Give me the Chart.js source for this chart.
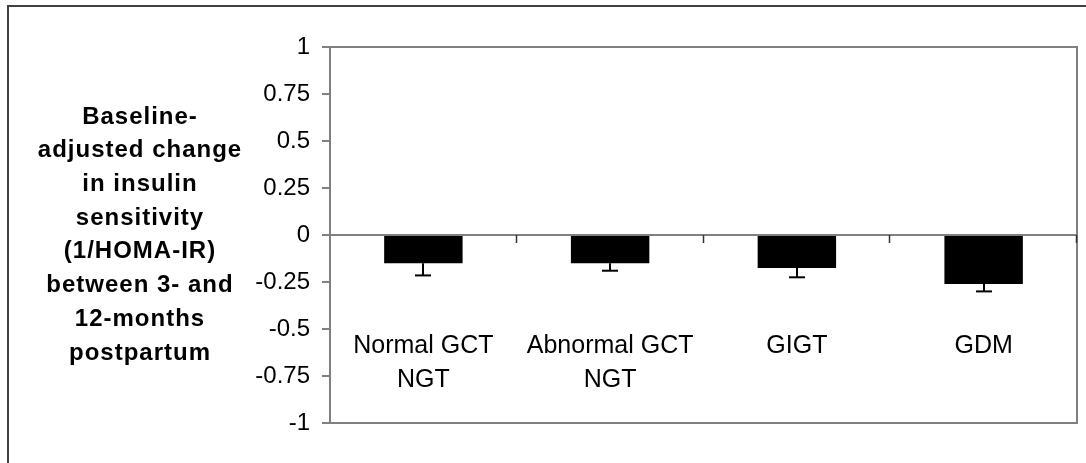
<!DOCTYPE html>
<html><head><meta charset="utf-8">
<script src="https://cdn.jsdelivr.net/npm/chart.js@4.4.1/dist/chart.umd.min.js"></script>
<style>html,body{margin:0;padding:0;background:#fff;} #wrap{width:1086px;height:463px;position:relative;}</style>
</head><body><div id="wrap"><canvas id="c" width="1086" height="463"></canvas></div>
<script>
const categories = [['Normal GCT','NGT'],['Abnormal GCT','NGT'],['GIGT'],['GDM']];
const changeValues = [-0.15, -0.15, -0.175, -0.26];
const errorLower = [-0.215, -0.19, -0.225, -0.30];
const yTickValues = [-1,-0.75,-0.5,-0.25,0,0.25,0.5,0.75,1];
const yTickLabels = ['-1','-0.75','-0.5','-0.25','0','0.25','0.5','0.75','1'];
const yTitleLines = ['Baseline-','adjusted change','in insulin','sensitivity','(1/HOMA-IR)','between 3- and','12-months','postpartum'];

const FONT = '"Liberation Sans", Arial, sans-serif';

const decor = {
  id: 'decor',
  afterDatasetsDraw(chart) {
    const ctx = chart.ctx;
    const xs = chart.scales.x, ys = chart.scales.y;
    ctx.save();
    ctx.strokeStyle = '#000'; ctx.lineWidth = 2; ctx.lineCap = 'butt';
    changeValues.forEach((v, i) => {
      const x = Math.round(xs.getPixelForValue(i));
      const y0 = ys.getPixelForValue(v), y1 = ys.getPixelForValue(errorLower[i]);
      ctx.beginPath(); ctx.moveTo(x, y0); ctx.lineTo(x, y1); ctx.stroke();
      ctx.beginPath(); ctx.moveTo(x - 8, y1); ctx.lineTo(x + 8, y1); ctx.stroke();
    });
    ctx.restore();
  },
  afterDraw(chart) {
    const ctx = chart.ctx, a = chart.chartArea;
    const xs = chart.scales.x, ys = chart.scales.y;
    ctx.save();
    ctx.strokeStyle = '#808080'; ctx.lineWidth = 2;
    ctx.beginPath();
    ctx.moveTo(a.left, a.top); ctx.lineTo(a.right, a.top); ctx.lineTo(a.right, a.bottom); ctx.lineTo(a.left, a.bottom);
    ctx.stroke();
    ctx.strokeStyle = '#404040'; ctx.lineWidth = 2;
    ctx.beginPath(); ctx.moveTo(8, chart.height); ctx.lineTo(8, 6); ctx.lineTo(chart.width, 6); ctx.stroke();
    const y0 = ys.getPixelForValue(0);
    const n = categories.length, w = (a.right - a.left) / n;
    ctx.strokeStyle = '#333'; ctx.lineWidth = 1.5;
    for (let i = 1; i <= n; i++) {
      const x = Math.round(a.left + i * w) - 0.5;
      ctx.beginPath(); ctx.moveTo(x, y0); ctx.lineTo(x, y0 + 8); ctx.stroke();
    }
    ctx.fillStyle = '#000'; ctx.font = '25px ' + FONT; ctx.textAlign = 'center'; ctx.textBaseline = 'alphabetic';
    const yl = ys.getPixelForValue(-0.5);
    categories.forEach((lines, i) => {
      const x = xs.getPixelForValue(i);
      lines.forEach((t, j) => ctx.fillText(t, x, yl + 24 + j * 34));
    });
    ctx.font = 'bold 24px ' + FONT; ctx.textBaseline = 'middle';
    try { ctx.letterSpacing = '1px'; } catch (e) {}
    const cy = (a.top + a.bottom) / 2;
    yTitleLines.forEach((t, i) => ctx.fillText(t, 140, cy + (i - (yTitleLines.length - 1) / 2) * 33.7));
    ctx.restore();
  }
};

new Chart(document.getElementById('c'), {
  type: 'bar',
  data: {
    labels: categories,
    datasets: [{ data: changeValues, backgroundColor: '#000', borderWidth: 0, barPercentage: 0.42, categoryPercentage: 1 }]
  },
  options: {
    responsive: false, animation: false, devicePixelRatio: 1,
    layout: { padding: { left: 0, top: 47, right: 9, bottom: 40 } },
    plugins: { legend: { display: false }, tooltip: { enabled: false } },
    scales: {
      x: { display: false },
      y: {
        min: -1, max: 1,
        afterBuildTicks: s => { s.ticks = yTickValues.map(v => ({ value: v })); },
        afterFit: s => { s.width = 330; },
        ticks: {
          callback: v => yTickLabels[yTickValues.indexOf(v)],
          font: { family: FONT, size: 24 }, color: '#000', padding: 12
        },
        grid: {
          drawOnChartArea: true,
          color: c => (c.tick && c.tick.value === 0) ? '#808080' : 'rgba(0,0,0,0)',
          tickColor: '#808080', tickLength: 8, lineWidth: 2
        },
        border: { display: true, color: '#808080', width: 2 }
      }
    }
  },
  plugins: [decor]
});
</script></body></html>
